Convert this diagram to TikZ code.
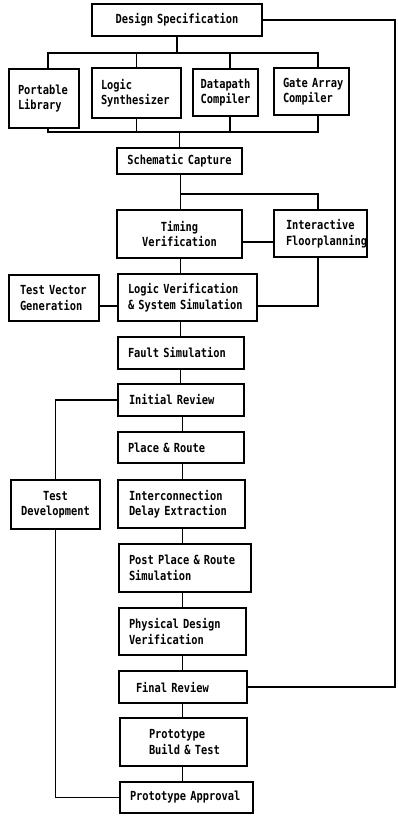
\documentclass[tikz,border=0pt]{standalone}
\usepackage{fontspec}
\newfontfamily\diafont[FakeStretch=0.83]{DejaVu Sans Mono}
\newcommand\flowbox[8][align=left]{%
  \pgfmathsetmacro\fbh{#6-#4}%
  \pgfmathsetmacro\fbtw{#5-#3-2*#7}%
  \node[boxst,#1,minimum height=\fbh pt,text width=\fbtw pt,inner xsep=#7pt] (#2) at (#3,#4) {#8};}
\begin{document}
\begin{tikzpicture}[x=1pt,y=-1pt,
  boxst/.style={draw,line width=1.3pt,anchor=north west,outer sep=0pt,inner ysep=0pt,
    font=\diafont\bfseries\fontsize{12.5}{15.5}\selectfont},
  conn/.style={line width=1.3pt}]
\useasboundingbox (0,0) rectangle (397,816);
% boxes: name, x1, y1, x2, y2, pad, text
\flowbox[align=center]{ds}{92}{4}{262}{36}{0}{Design Specification}
\flowbox{pl}{9}{69}{79}{128}{9}{Portable\\Library}
\flowbox{ls}{92}{68}{181}{118}{9}{Logic\\Synthesizer}
\flowbox[align=center]{dc}{193}{69}{258}{116}{0}{Datapath\\Compiler}
\flowbox{gac}{274}{68}{349}{115}{9}{\mbox{Gate Array}\\Compiler}
\flowbox[align=center]{sc}{117}{148}{242}{174}{0}{Schematic Capture}
\flowbox[align=center]{tv}{117}{210}{242}{258}{0}{Timing\\Verification}
\flowbox{if}{274}{210}{367}{257}{12}{Interactive\\\mbox{Floorplanning}}
\flowbox{tvg}{9}{275}{99}{321}{11}{\mbox{Test Vector}\\Generation}
\flowbox{lv}{118}{274}{257}{321}{10}{\mbox{Logic Verification}\\\mbox{\& System Simulation}}
\flowbox{fs}{118}{337}{244}{369}{10}{Fault Simulation}
\flowbox{ir}{118}{384}{244}{416}{11}{Initial Review}
\flowbox{pr}{118}{432}{244}{463}{10}{Place \& Route}
\flowbox[align=center]{td}{11}{480}{100}{529}{0}{Test\\Development}
\flowbox{ide}{118}{480}{245}{528}{11}{Interconnection\\\mbox{Delay Extraction}}
\flowbox{ppr}{119}{544}{251}{592}{10}{\mbox{Post Place \& Route}\\Simulation}
\flowbox{pdv}{119}{608}{246}{655}{10}{\mbox{Physical Design}\\Verification}
\flowbox{fr}{119}{671}{247}{703}{17}{Final Review}
\flowbox{pbt}{120}{718}{247}{766}{29}{Prototype\\\mbox{Build \& Test}}
\flowbox{pa}{120}{782}{253}{813}{10}{\mbox{Prototype Approval}}
% junction coordinates
\coordinate (tbR) at (318,53);
\coordinate (dcx) at (230,53);
\coordinate (bbR) at (318,132);
\coordinate (j1) at (180,194);
\coordinate (j2) at (258,242);
\coordinate (j3) at (258,306);
\coordinate (cu) at (180.5,0);
\coordinate (cl) at (182.5,0);
\coordinate (rtop) at (395,20);
% connectors
\draw[conn] (ds.south) -- (ds.south |- tbR);
\draw[conn] ([xshift=4pt]pl.north) |- (tbR) -- (tbR |- gac.north);
\draw[conn] (ls.north) -- (ls.north |- tbR);
\draw[conn] (dcx) -- (dcx |- dc.north);
\draw[conn] ([xshift=4pt]pl.south) |- (bbR) -- (bbR |- gac.south);
\draw[conn] (ls.south) -- (ls.south |- bbR);
\draw[conn] (dcx |- dc.south) -- (dcx |- bbR);
\draw[conn] (sc.north) -- (sc.north |- bbR);
\draw[conn] (cu |- sc.south) -- (cu |- tv.north);
\draw[conn] (j1) -| ([xshift=-2.5pt]if.north);
\draw[conn] (tv.east |- j2) -- (if.west |- j2);
\draw[conn] (cu |- tv.south) -- (cu |- lv.north);
\draw[conn] (tvg.east |- j3) -- (lv.west |- j3);
\draw[conn] ([xshift=-2.5pt]if.south) |- (lv.east |- j3);
\draw[conn] (cu |- lv.south) -- (cu |- fs.north);
\draw[conn] (cu |- fs.south) -- (cu |- ir.north);
\draw[conn] (cl |- ir.south) -- (cl |- pr.north);
\draw[conn] (cl |- pr.south) -- (cl |- ide.north);
\draw[conn] (cl |- ide.south) -- (cl |- ppr.north);
\draw[conn] (cl |- ppr.south) -- (cl |- pdv.north);
\draw[conn] (cl |- pdv.south) -- (cl |- fr.north);
\draw[conn] (cl |- fr.south) -- (cl |- pbt.north);
\draw[conn] (cl |- pbt.south) -- (cl |- pa.north);
\draw[conn] (ir.west) -| (td.north);
\draw[conn] (td.south) |- (pa.west);
\draw[conn] (fr.east) -| (rtop) -- (ds.east);
\end{tikzpicture}
\end{document}
